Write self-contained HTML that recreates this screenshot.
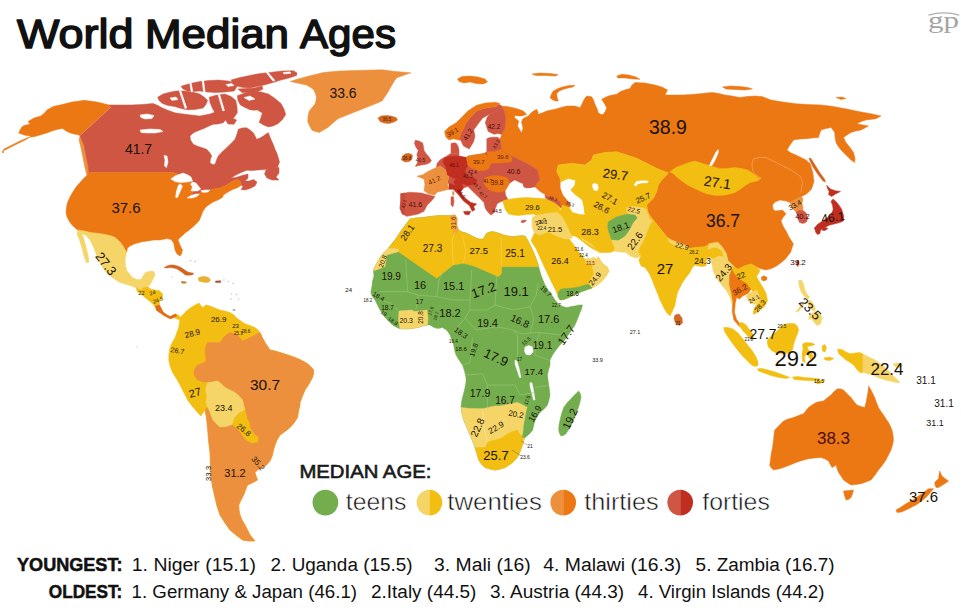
<!DOCTYPE html>
<html><head><meta charset="utf-8"><title>World Median Ages</title>
<style>
html,body{margin:0;padding:0;background:#fff;}
body{width:961px;height:612px;overflow:hidden;position:relative;font-family:"Liberation Sans",sans-serif;}
svg{position:absolute;left:0;top:0;}
svg text{font-family:"Liberation Sans",sans-serif;}
</style></head><body>
<svg width="961" height="612" viewBox="0 0 961 612">
<g shape-rendering="geometricPrecision">
<polygon points="111,107 109.3,105 97,102 84.3,100.3 72,102 62,104.5 53,106.6 47,110 44,113.5 40.6,116 34,118 28,121.5 30,124 24,125.5 21.9,126.9 20,130 18.7,133 24,135 31.2,136.2 26,139.5 18,143.5 10,147.5 3,151 4,149 12,145 20,141 28,137.5 35,136.5 40,135 46.8,133 52,131 57,129.5 62.4,128.4 66,131 70.2,133 74,134 78,134.7 80,135.5" fill="#ec7814" stroke="#ec7814" stroke-width="0.5" stroke-linejoin="round"/>
<polygon points="2,152 3,151 4,152 3,153" fill="#ec7814" stroke="#ec7814" stroke-width="0.5" stroke-linejoin="round"/>
<polygon points="80,135.5 83,134 85,142 87,152 89,162 91,172 90,176 87,176 85,168 83,158 81,148 79,140" fill="#ed903e" stroke="#ed903e" stroke-width="0.5" stroke-linejoin="round"/>
<polygon points="111,107 109.3,105 120,105 131,105 142,104.5 153,103.5 158,105.5 162.4,108 168.5,110.5 174.8,112.8 181,113.7 187.3,114.5 193.5,115.3 199.8,116 205,115 210,114 214,112.5 218,112 221,114 224,116 226.7,119 225.5,120 223.3,122.7 218,124 213.3,124.3 209,126 205,128 200,130 195,132 192,134 190,136 190.5,140 193.3,144.3 197,146 200,147 206.7,149.3 210,153 211.7,156 210.5,159 210,162.7 212.5,164.5 215,164.3 216.5,160 218.3,156 222,152 226.7,147.7 231,143.5 235,139.3 237,134 238.3,129.3 242,128 246.7,127.7 250,130 253.3,132.7 255,136 256.7,139.3 260,138 263.3,136 266,134 268.3,132.7 270,137 271.7,141 273.5,145 275,149.3 277,153.5 278.3,157.7 279.5,162 277.5,167.5 271,169 265,169.5 258,170 252,170.5 246.7,170.3 240,173 235,175.5 231,178 236,177.5 242,175.5 248,174 248,178 245,181 249,181 253.5,179.5 257,182 255,186 250,188.5 245,190 241,189.5 243,186.5 241.3,185.2 240,181 237,179.5 234,180.5 230.5,182.5 225,186 219.6,188 214,189 210,190 205,191 200.7,192 197,195.5 191,196.5 193,192 195,187 192.5,181.5 183,178 178,174 172.7,172.4 89,172.4 88,165 86,155 84,145 80,135.5" fill="#ce5642" stroke="#ce5642" stroke-width="0.5" stroke-linejoin="round"/>
<polygon points="266,170 272,168 279,167.5 279,173 276,177 279,180 272,180 267,178 264.5,174" fill="#ce5642" stroke="#ce5642" stroke-width="0.5" stroke-linejoin="round"/>
<polygon points="157.7,97.2 163,94 168.6,92.5 176,91 184.2,91 192,92 199.8,94.1 204,97 207.6,100.3 206,104.5 203,108.1 195,109.5 187.3,109.7 181,108.5 174.8,106.6 168,105.5 162.4,103.5 159,100.5" fill="#ce5642" stroke="#ce5642" stroke-width="0.5" stroke-linejoin="round"/>
<polygon points="181,86.3 190,83.5 199.8,81.6 209,80.5 218.5,80 228,81 237.3,83.2 236.5,87.5 234.2,91 225,92 215.4,92.5 207,92 199.8,91 193,91.5 187.3,91 183,89" fill="#ce5642" stroke="#ce5642" stroke-width="0.5" stroke-linejoin="round"/>
<polygon points="231,80 240,77.5 249.8,75.4 260,73.5 271.6,72.2 282,71 293.5,70.7 297,73 296.6,75.4 289,78 281,80 273,82.5 265.4,84.7 257,86.5 249.8,87.9 243,87.5 237.3,86.3 233,83.5" fill="#ce5642" stroke="#ce5642" stroke-width="0.5" stroke-linejoin="round"/>
<polygon points="238,89 246,88.5 254,88 262,86 263,89 258,91.5 250,92.5 242,92.5" fill="#ce5642" stroke="#ce5642" stroke-width="0.5" stroke-linejoin="round"/>
<polygon points="237.3,95.7 245,93 252.9,91 261,92 268.5,94.1 275,98.5 281,103.5 284,109 285.7,114.4 282.5,119.5 277.9,123.8 273,126 268.5,126.9 263.5,125 259.1,122.2 261,117.5 262.3,112.8 256,110.5 249.8,109.7 245,107.5 240.4,105 238,100.5" fill="#ce5642" stroke="#ce5642" stroke-width="0.5" stroke-linejoin="round"/>
<polygon points="209.2,97.2 217,95 224.8,94.1 231,96.5 235.7,100.3 237,106.5 237.3,112.8 234.5,117 231,120.6 224.5,119.5 218.5,117.5 215,113 212.3,108.1 210,102.5" fill="#ce5642" stroke="#ce5642" stroke-width="0.5" stroke-linejoin="round"/>
<polygon points="225,119 231,117.7 236.7,120 234,124.3 228,124" fill="#ce5642" stroke="#ce5642" stroke-width="0.5" stroke-linejoin="round"/>
<polygon points="179.3,91 181,91 186.8,108 185,108.5" fill="#ffffff" stroke="#ffffff" stroke-width="0.5" stroke-linejoin="round"/>
<polygon points="189.5,81.5 191,81.5 192.8,91.5 191.2,92" fill="#ffffff" stroke="#ffffff" stroke-width="0.5" stroke-linejoin="round"/>
<polygon points="202,80 203.6,80 205.2,92.5 203.6,93" fill="#ffffff" stroke="#ffffff" stroke-width="0.5" stroke-linejoin="round"/>
<polygon points="266,72.3 267.8,72 275,80.5 273,81.2" fill="#ffffff" stroke="#ffffff" stroke-width="0.5" stroke-linejoin="round"/>
<polygon points="217.8,94 219.5,93.8 224.5,110.5 222.8,111" fill="#ffffff" stroke="#ffffff" stroke-width="0.5" stroke-linejoin="round"/>
<polygon points="254,111 258,110.5 261,113.5 257,115" fill="#ffffff" stroke="#ffffff" stroke-width="0.5" stroke-linejoin="round"/>
<polygon points="244,97.5 250,96 255,99 249,100.5" fill="#ffffff" stroke="#ffffff" stroke-width="0.5" stroke-linejoin="round"/>
<polygon points="170,98 176,97 178,99.5 172,100.5" fill="#ffffff" stroke="#ffffff" stroke-width="0.5" stroke-linejoin="round"/>
<polygon points="226,84.5 232,83.5 234,85.5 228,86.5" fill="#ffffff" stroke="#ffffff" stroke-width="0.5" stroke-linejoin="round"/>
<polygon points="283,72.5 290,71.8 291,73.2 284,74" fill="#ffffff" stroke="#ffffff" stroke-width="0.5" stroke-linejoin="round"/>
<polygon points="140,115 147,114 154,115.5 152,118.5 145,119 141,117.5" fill="#ffffff" stroke="#ffffff" stroke-width="0.5" stroke-linejoin="round"/>
<polygon points="140,130 150,129 160,129.5 163,131.5 155,133 146,133 141,132.5" fill="#ffffff" stroke="#ffffff" stroke-width="0.5" stroke-linejoin="round"/>
<polygon points="164,155.4 167,156 168,162 166.5,167.6 164.5,166 165,160" fill="#ffffff" stroke="#ffffff" stroke-width="0.5" stroke-linejoin="round"/>
<polygon points="89,172.4 172.7,172.4 178,174 183,178 192.5,181.5 195,187 193,192 191,196.5 197,195.5 200.7,192 205,191 210,190 214,189 219.6,188 225,186 230.5,182.5 234,180.5 237,179.5 240,181 241.3,185.2 237,188 233.2,189.3 228,192 223.7,194.7 222.4,197.4 218,200 214.2,201.5 210,204 206,207 203,211 202,213.7 199.3,220.5 196,224 192.5,227.3 188,231 185,233 182,236 180,237.5 178,240 180,245 182.5,250 181.5,254 180,256 177,254 175,250 173.7,243 171,239.5 167,238.5 160,240 154,240 147.5,241 141,242 135,243.7 130,246 127.5,248 126.5,252.5 123,246 120,242 115,237.5 111,236 107.5,235 100,233.7 90,232.5 84,231 77.5,230 73,226 70,222.5 67,217 66,212.5 66.5,207 67.5,202.5 70,197 72.5,192.5 76,187 80,182.5 84,178 87.5,175" fill="#ec7814" stroke="#ec7814" stroke-width="0.5" stroke-linejoin="round"/>
<polygon points="170.8,179 175,176 183,173 188,175 191,177 192.5,181 187,182 180,182.5 175,181.5" fill="#ffffff" stroke="#ffffff" stroke-width="0.5" stroke-linejoin="round"/>
<polygon points="180.3,184 182.5,186 180,192 177.5,197.4 175.6,197.4 176.5,191 178.5,185" fill="#ffffff" stroke="#ffffff" stroke-width="0.5" stroke-linejoin="round"/>
<polygon points="192.5,182 196,183 200.7,189 198,191 193,191 191,190.7 192.5,187 190.5,184" fill="#ffffff" stroke="#ffffff" stroke-width="0.5" stroke-linejoin="round"/>
<polygon points="187,198 191,195.5 196,194 199.3,194 197,196.5 192,198" fill="#ffffff" stroke="#ffffff" stroke-width="0.5" stroke-linejoin="round"/>
<polygon points="200.7,190.7 205,190 210,190 208,192 203,192.5" fill="#ffffff" stroke="#ffffff" stroke-width="0.5" stroke-linejoin="round"/>
<polygon points="77.5,230 84,231 90,232.5 100,233.7 107.5,235 111,236 115,237.5 120,242 123,246 126.5,252.5 125,260 125.5,266 127,271 132.5,277.5 137,279.5 141,279.5 143,276 145.5,272.5 150,271 154,271.5 155,275 153,279 151,283 148,287 143.5,287.5 141,290 137.5,288.5 133,286.5 130,285.5 125,284 120,282.5 115,279.5 110,276 106,272 102.5,267.5 100,262.5 97.5,257.5 95,251 92.5,245 90,240 86,235.5 82,233.5 84,240 86,247 88,255 89,262 86.5,263 84,256 82,248 79.5,240 77,234" fill="#f5d568" stroke="#f5d568" stroke-width="0.5" stroke-linejoin="round"/>
<polygon points="136.4,288 141,290 143.5,287.5 148,287 150.5,289 155,290 159,290.5 162.8,294 162,298.5 159.5,301.5 159.5,305 161,308 163,312 167,315 170.3,316.6 175.3,314 179,315.3 180.8,319 178,319.5 174,317.5 170.3,318.8 164,315.5 159,312 156.5,310.3 154,305.3 150,301.5 145.2,297.7 141,294 137,291" fill="#f2be12" stroke="#f2be12" stroke-width="0.5" stroke-linejoin="round"/>
<polygon points="155.5,306 159.5,305 161,308 163,312 167,315 170.3,316.6 175.3,314 177,315.5 174,317.5 170.3,318.8 164,315.5 159,312 156.5,310.3" fill="#dc6a22" stroke="#dc6a22" stroke-width="0.5" stroke-linejoin="round"/>
<polygon points="164,267.5 167,266 170.3,265 173.5,265 176.6,265.7 180,267 182.9,268.8 185.5,270.5 187.9,272 191,272.8 193.6,273.2 193,274.5 191.7,275 188.5,275.2 185.4,275 183.5,273.5 181.6,272 179,270.3 176.6,268.8 173.5,268 170.3,267.5 167,268" fill="#d0651e" stroke="#d0651e" stroke-width="0.5" stroke-linejoin="round"/>
<polygon points="198,278 201,276.8 205,276.4 208.5,277.5 210.6,280 209,282 205.5,282.6 202,282 199,281" fill="#e9b030" stroke="#e9b030" stroke-width="0.5" stroke-linejoin="round"/>
<polygon points="181,281.6 184,281.4 186.7,282.2 185.5,283.3 182,283.3" fill="#b98a2a" stroke="#b98a2a" stroke-width="0.5" stroke-linejoin="round"/>
<polygon points="215.6,281 220.6,280.8 220.6,282.6 215.6,282.6" fill="#a0522d" stroke="#a0522d" stroke-width="0.5" stroke-linejoin="round"/>
<polygon points="290.2,81.5 296,79.5 301.9,77.9 309,76 316.4,74.2 322,72.8 328,72 340,71 352.8,70.6 365,70.2 382,69.8 388,70.4 393.6,71.3 402,72 411,72.8 403,75.5 396.5,77.9 394,81.5 392,85 390,88.5 387.8,92.4 385,96.5 382,101 375,104 367.4,107 360,110 352.8,112.8 345.5,115.7 338.3,118.6 333,123 328,127.4 323.5,130 319.3,132.5 315.5,131.5 312,130.3 309.5,126 307.7,121.6 308,116.5 309,111.4 312,107.5 315,104 316,100.5 316.4,96.8 315.2,93 313.5,89.5 310,87 306.2,85 298,83.2" fill="#ed903e" stroke="#ed903e" stroke-width="0.5" stroke-linejoin="round"/>
<polygon points="378,118 381,116 386,115.5 391,116 396,117.5 397.5,120 394,122 389,123.5 384,123 380,121.5" fill="#d2691e" stroke="#d2691e" stroke-width="0.5" stroke-linejoin="round"/>
<ellipse cx="190.5" cy="260.8" rx="1" ry="0.7" fill="#c5ccd2"/>
<ellipse cx="195" cy="261.5" rx="1" ry="0.7" fill="#c5ccd2"/>
<ellipse cx="224" cy="280" rx="0.9" ry="0.7" fill="#c5ccd2"/>
<ellipse cx="228.5" cy="281.5" rx="0.9" ry="0.7" fill="#c5ccd2"/>
<ellipse cx="233" cy="283.5" rx="0.9" ry="0.7" fill="#c5ccd2"/>
<ellipse cx="231.5" cy="294" rx="0.9" ry="0.7" fill="#c5ccd2"/>
<ellipse cx="236.5" cy="294.5" rx="0.9" ry="0.7" fill="#c5ccd2"/>
<ellipse cx="231" cy="299" rx="0.9" ry="0.7" fill="#c5ccd2"/>
<ellipse cx="238.5" cy="299" rx="0.9" ry="0.7" fill="#c5ccd2"/>
<ellipse cx="234" cy="310" rx="1.6" ry="0.8" fill="#8a8f94"/>
<ellipse cx="172" cy="277" rx="0.9" ry="0.6" fill="#c5ccd2"/>
<ellipse cx="137" cy="347" rx="0.8" ry="0.8" fill="#e8dca0"/>
<polygon points="195,305 199,303 202.5,307.5 206,305 210,306 215,308 220,310 225,311 230,312.5 234,315 237.5,318.7 241,321 245,323.7 250,325.5 255,327.5 258,330 260,332.5 262,337 265,342.5 268,347 270,350 275,351 280,352.5 288,355 295,357.5 301,360 307.5,363.7 311,367 313.7,370 313.5,374 312.5,377.5 309,384 305,390 302.5,396 300,402.5 300,405 298.5,411 297.5,417.5 294,423 290,427.5 285,431.5 280,435 277,440 275,445 273.5,450 272.5,455 270,461 267,464.5 262.5,467.5 258,469.5 255,472.5 256,476 257.5,480 252,483 247.5,485 245.5,490 243.7,495 241,500 238.7,505 239,510 240,515 242,520 245,525 247.5,530 250,535 255,541 248,541 242.5,540 236,535 230,530 225,523 220,515 217,506 215,497.5 212.5,487 211,477.5 210.5,465 210,452.5 208.5,440 207.5,427.5 206.5,418 205,410 201,416 197.5,412.5 192,406 187.5,400 183.5,392 180,385 176,378 172.5,372.5 170,366 168.7,360 169,353 170,347.5 172.5,342 175,337.5 177,332 178.7,327.5 179.5,322 180,317.5 184,313.5 187.5,310 191,307.5" fill="#f2be12" stroke="#f2be12" stroke-width="0.5" stroke-linejoin="round"/>
<polygon points="260,332.5 262,337 265,342.5 268,347 270,350 275,351 280,352.5 288,355 295,357.5 301,360 307.5,363.7 311,367 313.7,370 313.5,374 312.5,377.5 309,384 305,390 302.5,396 300,402.5 300,405 298.5,411 297.5,417.5 294,423 290,427.5 285,431.5 280,435 277,440 275,445 273.5,450 270,448 266,446 262,447 259,449 257.5,442.5 258,437 254,434 250,428 249,422 247.5,420 245,410 242.5,400 238,395 235,392.5 230,390 225,387.5 221,383.5 217.5,381 212,382 207.5,382.5 202,381.5 197.5,380 194.5,376 193.7,372.5 195,368 197.5,365 202,363.5 206,361 205.5,355 205,350 206,346 207.5,342.5 214,342.5 220,342.5 222.5,339 225,336 227.5,334 230,332.5 234,333.5 237.5,335 240,338 242.5,341 246,339.5 250,337.5 255,335" fill="#ed903e" stroke="#ed903e" stroke-width="0.5" stroke-linejoin="round"/>
<polygon points="207.5,382.5 212,382 217.5,381 221,383.5 225,387.5 230,390 235,392.5 238,395 242.5,400 245,410 243,411 238,414 235,417.5 233.5,421 232.5,425 226,427 220,427.5 216,424 212.5,420 210,414 207.5,407.5 206,402 207,396 205.5,390" fill="#f5d568" stroke="#f5d568" stroke-width="0.5" stroke-linejoin="round"/>
<polygon points="235,417.5 238,414 243,411 245,410 247.5,420 249,422 250,428 254,434 258,437 257.5,442.5 252,443.5 247,441 243,437 240,432 236,428 232.5,425 233.5,421" fill="#f2be12" stroke="#f2be12" stroke-width="0.5" stroke-linejoin="round"/>
<polygon points="220,427.5 226,427 232.5,425 236,428 240,432 243,437 247,441 252,443.5 257.5,442.5 259,449 256,452 255,458 255,464 258,469.5 255,472.5 256,476 257.5,480 252,483 247.5,485 245.5,490 243.7,495 241,500 238.7,505 239,510 240,515 242,520 245,525 247.5,530 250,535 255,541 248,541 242.5,540 236,535 230,530 225,523 220,515 217,506 215,497.5 212.5,487 211,477.5 210.5,465 210,452.5 208.5,440 207.5,427.5 206.5,418 205,410 207.5,407.5 210,414 212.5,420 216,424" fill="#ed903e" stroke="#ed903e" stroke-width="0.5" stroke-linejoin="round"/>
<polygon points="259,449 262,447 266,446 270,448 273.5,450 272.5,455 270,461 267,464.5 262.5,467.5 258,469.5 255,464 255,458 256,452" fill="#ed903e" stroke="#ed903e" stroke-width="0.5" stroke-linejoin="round"/>
<polygon points="410,219 416,218 423.3,217.5 430,216.5 436.7,215.8 443,215.5 450,215.8 455,215 457,219 456.7,225 458.3,230 462,232 466.7,233.3 472,236 476.7,238.3 480,239.3 483.3,239 485,236 486.7,233.3 490,232 493.3,231.7 498,233 503.3,235 508,236 513.3,236.7 520,235.8 525,236 527.5,240 530,245 532.5,250 535,256 537.5,262.5 539,268 541,275 543,280 545,285 547.5,289 550,292.5 552.5,296 555,300 557.5,303 560,305 564,307 567.5,307.5 571,306.5 575,306 579,305 582.5,305 581.5,309 580,312.5 577.5,319 575,325 571,331 567.5,336 564,341 560,345 556,350 552.5,355 550,360 550,365 548.5,370 547.5,375 548,380 548.7,385 549.5,390 550,395 549,400 547.5,405 544,409 540,412.5 537.5,416 535,420 533.5,425 532.5,430 529,434 525,437.5 523.5,441 522.5,445 520.5,450 518.7,455 516,459 512.5,462.5 509,465 505,467.5 500,469 495,470 490,469 485,467.5 481.5,464 478.7,460 477,454 475,447.5 472.5,441 470,435 467,428 463.7,420 462,414 461,407.5 461.5,402 462.5,397.5 464,392 465,387.5 466,382 466,377.5 464.5,371 462.5,365 459,360 456,355 454.5,350 453.7,345 452,340 450,335 447,330.5 442.5,327.5 438,328.5 434,327.5 430,325 427.5,325 423,326 418,327.5 412,328.5 406,329 400,328.7 396,327 392.5,325 388.5,321 385,317.5 382.5,314 380,310 377.5,305 375,300 372,296 370.8,292 372,286 372.5,281 374,276 373.3,270 376.7,263.3 381.7,255 388.3,248.3 395,240 401.7,230" fill="#73ad4e" stroke="#73ad4e" stroke-width="0.5" stroke-linejoin="round"/>
<polygon points="410,219 416,218 423.3,217.5 430,216.5 436.7,215.8 443,215.5 450,215.8 455,215 457,219 456.7,225 458.3,230 462,232 466.7,233.3 472,236 476.7,238.3 480,239.3 483.3,239 485,236 486.7,233.3 490,232 493.3,231.7 498,233 503.3,235 508,236 513.3,236.7 520,235.8 525,236 527.5,240 530,245 532.5,250 535,256 537.5,262.5 538.5,266.7 501.7,266.7 501.7,273.3 498.3,276.7 483.3,270 473.3,265.8 463.3,263.3 453.3,265 436.7,278.3 398.3,251.7 398.3,249 388.3,248.3 395,240 401.7,230" fill="#f2be12" stroke="#f2be12" stroke-width="0.5" stroke-linejoin="round"/>
<polygon points="388.3,248.3 398.3,249 398.3,251.7 386.7,255 385,266.7 374,270.8 373.3,270 376.7,263.3 381.7,255" fill="#f5d568" stroke="#f5d568" stroke-width="0.5" stroke-linejoin="round"/>
<polygon points="450.5,215.8 455,215 457,219 456.7,225 458.3,230 456.5,233 454,235.5 452.8,229 451.2,222" fill="#f0a23c" stroke="#f0a23c" stroke-width="0.5" stroke-linejoin="round"/>
<polygon points="399,311 412,310 414,311.5 420,311 427,310 428,318 427.5,325 423,326 418,327.5 412,328.5 406,329 400,328.7 398.5,320" fill="#f5d568" stroke="#f5d568" stroke-width="0.5" stroke-linejoin="round"/>
<polygon points="461,407.5 470,408.5 482.5,408.7 490,407 495,406 500,406 505,405 511,403.5 517.5,402.5 522,404.5 527.5,407.5 526,414 525,420 524,425 523.7,430 523,434 522.5,437.5 525,437.5 523.5,441 522.5,445 520.5,450 518.7,455 516,459 512.5,462.5 509,465 505,467.5 500,469 495,470 490,469 485,467.5 481.5,464 478.7,460 477,454 475,447.5 472.5,441 470,435 467,428 463.7,420 462,414" fill="#f5d568" stroke="#f5d568" stroke-width="0.5" stroke-linejoin="round"/>
<polygon points="475,447.5 477,454 478.7,460 481.5,464 485,467.5 490,469 495,470 500,469 505,467.5 509,465 512.5,462.5 516,459 518.7,455 520.5,450 522.5,445 523.5,441 522,436 519,433 517.5,430 514,431 510,432.5 506,435 502.5,437.5 499,439 495,440 491,441 487.5,442.5 486.5,445 486,447.5 480,447.5" fill="#f2be12" stroke="#f2be12" stroke-width="0.5" stroke-linejoin="round"/>
<polygon points="527.5,407.5 532,410 537.5,416 535,420 533.5,425 532.5,430 529,434 525,437.5 522.5,437.5 523,434 523.7,430 524,425 525,420 526,414" fill="#73ad4e" stroke="#73ad4e" stroke-width="0.5" stroke-linejoin="round"/>
<polygon points="525,347 529,345.5 532.5,347 533,352 530,355 526,354.5 524.5,351" fill="#ffffff" stroke="#ffffff" stroke-width="0.5" stroke-linejoin="round"/>
<polygon points="515,360 517,361 519,368 521,377.5 519.5,377.5 517,370 515,364" fill="#ffffff" stroke="#ffffff" stroke-width="0.5" stroke-linejoin="round"/>
<polygon points="530,382.5 532,383 533.5,390 535,400 533.5,400 531.5,392 530,386" fill="#ffffff" stroke="#ffffff" stroke-width="0.5" stroke-linejoin="round"/>
<polygon points="578.7,391 580.5,394 581,397.5 579.5,404 577.5,410 575,416.5 572.5,422.5 569.5,428 566,433.7 563.5,435.5 561,436 559.3,433 558.7,430 559,425 560,420 561.5,414 563.7,407.5 567,403 571,398.7 575,394.5" fill="#73ad4e" stroke="#73ad4e" stroke-width="0.5" stroke-linejoin="round"/>
<polygon points="498.3,104.5 501.7,106 507,106.5 513.3,107.7 518,109 523.3,111 526.7,114.3 522,116 518.3,116 515,115.5 514.5,117.7 518.8,121 517.5,126 520.5,131 521.7,132.7 523,128 521.5,122 523,118.5 528.3,116 531,113 533.3,111 536.7,109.3 538,112 538.3,114.3 542,113 546.7,111 551,110 555,109.3 561,107.5 566.7,106 571,106 575,106 580,107.7 582,104 583.3,101 585,98 586.7,96 591.7,96.8 593.5,100 595,104.3 597,108.5 598.3,112.7 601,114.5 603.3,114.3 605.5,111 606.7,107.7 604,103 601.7,99.3 605,97.5 608.3,96 612.5,95 616.7,94.3 619,92.5 621.7,91 626,89.5 630,88.5 632,85 635,82.5 645,83 655,85 662,87 667.5,90 665,95 673,95 682.5,95 691,94.5 700,93.7 706,93 712.5,92.5 719,93.5 725,95 732,96 740,97.5 747,96.5 755,96 762,96.5 771,100 783,102 796,103.7 808,104.5 821,105 830,106 838.5,107.5 847,109 856,111 864,112.5 871,113.7 881,116 876,118.7 866,120 861,121.5 857,123.7 863,125 868.5,126 864,128.5 861,130 856,131 851,132.5 847,135 843.5,137.5 846,142.5 850,147.5 853.5,152.5 855,158 854.7,162.5 851,160 848.5,157.5 844.5,153.5 841,150 838,146 836,142.5 835,137 834.7,132.5 833,130 831,127.5 826,128.5 821,130 819.5,134 818.5,137.5 812,138 806,138.7 800,139 793.5,140 790,145 787,150 791,153 796,155 801,157.5 806,160 810.3,163.8 812.8,172.6 814,181.4 811.6,189 806.5,194 801.5,196.5 798,198 794,200.5 790,202.5 786,201 780,200 775,202 772.5,205 773,209 775,211 779,210.5 782.5,210 786,213.7 783,217.5 781,221 783,226 786,231 789,237 792.5,242.5 793.4,243.7 790.5,252.5 784.7,259.8 777.4,265.6 771.6,268.5 765.8,270 760,268.5 754,265.6 751.2,264 745.4,265.6 738,269.2 733.7,266.3 727.9,260.5 726.4,254 722,246.7 717.7,242.3 710.4,243.7 704.6,246.7 695.8,247.4 690,248.3 680,244 673.3,241.7 666.7,236.7 660,228.3 653.3,220 648.3,213.3 646.7,205 653.3,198.3 656.7,191.7 658.3,185 661.7,180 666.7,175 668.3,172.5 665,171.7 656.7,168.3 646.7,163.3 636.7,158.3 626.7,155 616.7,151.7 605,152.5 593.3,155 591.7,160 585,165 571.7,163.3 558.3,165 556.7,171.7 560,178.3 560.8,182.5 560.8,188.3 563.3,195 566,199 568.3,201.7 565,203 560,201.5 555,200 550,197.5 545,195 540,192 535,187.5 537,183 540,180 538.5,175 537.5,170 533,167 530,165 520,160 510,155 503,152 501.7,149.3 500,139.3 501.7,134.3 505,127.7 505.7,118.3 504.3,111 501,105.5" fill="#ec7814" stroke="#ec7814" stroke-width="0.5" stroke-linejoin="round"/>
<polygon points="761.4,277 764,275.8 767.2,277.5 766.5,280 763.5,281 761.5,279.5" fill="#ec7814" stroke="#ec7814" stroke-width="0.5" stroke-linejoin="round"/>
<polygon points="809,158 811,158.5 815,165 820,173 824.5,179 825.5,182 823,181 818,174.5 813,167 810,161" fill="#d4621a" stroke="#d4621a" stroke-width="0.5" stroke-linejoin="round"/>
<polygon points="550,97.7 551.5,94 553.3,91 558,88.5 563.3,86.8 569,85.5 575,85.2 573,87 568,88 563.3,89.3 559.5,91 556.7,93.5 557,97 558.3,101 555.5,101 553.3,100.2" fill="#ec7814" stroke="#ec7814" stroke-width="0.5" stroke-linejoin="round"/>
<polygon points="616.7,76 622,74.3 629,75 636,77 640,79.3 633,79 625,78 618,78" fill="#ec7814" stroke="#ec7814" stroke-width="0.5" stroke-linejoin="round"/>
<polygon points="722.5,87 730,86 740,86.5 748,87.5 752.5,89 745,90 735,89.5 726,89" fill="#ec7814" stroke="#ec7814" stroke-width="0.5" stroke-linejoin="round"/>
<polygon points="457.5,79 462,76.5 470,76 478,77 485,79 487.5,82 483,84 476,83.5 470,82 464,83 459,81.5" fill="#ec7814" stroke="#ec7814" stroke-width="0.5" stroke-linejoin="round"/>
<polygon points="532,74 540,73 550,73.5 558,74.5 556,76 546,75.5 536,75.5" fill="#ec7814" stroke="#ec7814" stroke-width="0.5" stroke-linejoin="round"/>
<polygon points="836,97.5 842,97 846,98.5 841,99.5" fill="#ec7814" stroke="#ec7814" stroke-width="0.5" stroke-linejoin="round"/>
<polygon points="670,171.7 676,167.5 682.5,165 689,162.5 695,161 701,163 707.5,165 714,167 720,168.7 727.5,168.5 735,167.5 741,168.5 747.5,170 751,172 755,175 758,177.5 761,178.5 757,181 750,182.5 746,185 742.5,187.5 739,190 735,192.5 730,194 725,195 718.5,195.5 712.5,195 706,193.5 700,191 693.5,188 687.5,185 682,181 677.5,177.5 673,173.5" fill="#f2be12" stroke="#f2be12" stroke-width="0.5" stroke-linejoin="round"/>
<polygon points="709.5,165.5 711,162 713.5,157 716,152 718,149.5 718.5,152 716.5,157 714,162 712,165.5" fill="#ffffff" stroke="#ffffff" stroke-width="0.5" stroke-linejoin="round"/>
<polyline points="761,178 756,175 752.5,170 752,164 753.5,158.7 760,157.5 766,157.5 772,160.5 778.5,163.7 785,167 791,170 797,174 801,177 802.5,182.5 801.5,188 801,192.5" fill="none" stroke="#f4a05c" stroke-width="0.8" stroke-linejoin="round"/>
<polygon points="558.3,165 571.7,163.3 585,165 591.7,160 593.3,155 605,152.5 616.7,151.7 626.7,155 636.7,158.3 646.7,163.3 656.7,168.3 665,171.7 668.3,172.5 666.7,175 661.7,180 658.3,185 656.7,191.7 653.3,198.3 646.7,205 648.3,213.3 645,215 640,214.5 637.5,218.3 635,215 626.7,214.2 616.7,216.7 608.3,221.7 605,212.5 596,214 587.5,215 584.2,214.2 583.3,206.7 581.7,200 575,195 570,190 574,185.8 575,180.8 568.3,179 560.8,182.5 560,178.3 556.7,171.7" fill="#f2be12" stroke="#f2be12" stroke-width="0.5" stroke-linejoin="round"/>
<polygon points="626.7,207.5 632,206.5 638,207 645,208.5 647.5,212 645,215 640,214.5 637.5,218.3 635,215 630,214.5 626.7,212" fill="#f5d568" stroke="#f5d568" stroke-width="0.5" stroke-linejoin="round"/>
<polygon points="592.5,184.5 594.5,183.3 597.5,184.5 598.3,188 597,190.8 594,190 592.8,187.5" fill="#ffffff" stroke="#ffffff" stroke-width="0.5" stroke-linejoin="round"/>
<polygon points="634,185 636.5,181.5 642,180.8 648.3,181 647.5,182.7 641.5,183 637.5,184 636,186" fill="#ffffff" stroke="#ffffff" stroke-width="0.5" stroke-linejoin="round"/>
<polygon points="560.8,182.5 568.3,179 575,180.8 574,185.8 570,190 575,195 581.7,200 583.3,206.7 584.2,214.2 578.3,215.8 571.7,213.3 569.2,206.7 568.3,200 563.3,195 560.8,188.3" fill="#ffffff" stroke="#ffffff" stroke-width="0.5" stroke-linejoin="round"/>
<polygon points="436.5,167.5 437,163.5 440,160 443,158 444.5,157.6 451,153.3 459,153.3 459,156.2 466.4,157.6 467.8,156.2 476.6,154.7 484,153.5 486.8,151.8 492,152 497,151 501.7,149.3 503,152 510,155 520,160 530,165 533,167 537.5,170 538.5,175 540,180 537,183 535,187.5 530.5,188 526,187 523,183.5 518,182 514.5,180.6 510,183.5 508,187 505.7,190.8 506,195 508.6,199.5 505.5,200 502.8,201 499,202.5 497,203.9 495.5,208.3 494,212.6 491.5,215 489.7,214 487,211 485.3,208.3 483.9,202.4 479.5,198 473.7,192.2 467.8,186.4 463.5,187.9 462,183.5 456.2,185 449,183.5 447.4,183.5 449,176.2 446,170.4 440.2,166" fill="#ce5642" stroke="#ce5642" stroke-width="0.5" stroke-linejoin="round"/>
<polygon points="495.5,106.7 497,111 489.7,114 482.4,118.3 478,124 473.7,130 475,135.8 473.7,141.6 469.3,149 463.5,146 460.6,140 459,140 460.6,134.3 463.5,128.5 466.4,122.7 470.8,116.9 476.6,111 485.3,108" fill="#ce5642" stroke="#ce5642" stroke-width="0.5" stroke-linejoin="round"/>
<polygon points="497,111 495.5,106.7 498.3,104.5 501,105.5 504.3,111 505.7,118.3 505,127.7 501.7,134.3 498,133.5 494,134.3 488.2,131.4 485.3,122.7 487,117.5 489.7,114" fill="#ce5642" stroke="#ce5642" stroke-width="0.5" stroke-linejoin="round"/>
<polygon points="486.8,139 488,138 492,137.2 498,137.2 500,139.3 501.7,149.3 497,151 492,152 486.8,151.8 486.8,145" fill="#ce5642" stroke="#ce5642" stroke-width="0.5" stroke-linejoin="round"/>
<polygon points="451,143.5 453,143 456,143 458,146 459,150 459,153.3 455,153.3 451,153.3 451,148" fill="#ce5642" stroke="#ce5642" stroke-width="0.5" stroke-linejoin="round"/>
<polygon points="400.8,193.7 409.6,192.2 421.2,193 430,195.2 435,196.6 431.4,201 427,205.4 424,211.2 418.3,214 411,215.6 406.7,216.3 402.3,214 400,208.3 400.8,201" fill="#ce5642" stroke="#ce5642" stroke-width="0.5" stroke-linejoin="round"/>
<polygon points="400.8,193.7 404.5,193.2 405,200 404,208 405,214.5 402.3,214 400,208.3 400.8,201" fill="#c94a38" stroke="#c94a38" stroke-width="0.5" stroke-linejoin="round"/>
<polygon points="446,137.2 444.5,131.4 449,127 456.2,122.7 462,116.9 467.8,111 476.6,105.2 485.3,103 495.5,102.3 500,103.7 498.3,104.5 495.5,106.7 485.3,108 476.6,111 470.8,116.9 466.4,122.7 463.5,128.5 460.6,134.3 459,140 453.3,138.7 449,140" fill="#ec7814" stroke="#ec7814" stroke-width="0.5" stroke-linejoin="round"/>
<polygon points="422.7,174.8 416.9,176.2 424,179 424.9,185 424,190.8 428.5,193.7 434.3,195.2 437.2,192.2 443,190.8 449,189.3 447.4,183.5 449,176.2 446,170.4 440.2,166 436.5,167.5 432.9,169 427,172" fill="#ed903e" stroke="#ed903e" stroke-width="0.5" stroke-linejoin="round"/>
<polygon points="444.5,157.6 451.8,156.2 459,156.2 466.4,157.6 467.8,165 465,170.8 467.8,176.6 462,179.5 453.3,178 447.4,175 446,167.8 443,162" fill="#c02e20" stroke="#c02e20" stroke-width="0.5" stroke-linejoin="round"/>
<polygon points="456,179 462,179.5 467.8,176.6 473,177.5 477,180 475,184 468,185.5 462,183.5 456.2,185 453.5,182" fill="#c02e20" stroke="#c02e20" stroke-width="0.5" stroke-linejoin="round"/>
<polygon points="449,183.5 456.2,185 462,183.5 463.5,187.9 460.6,192.2 465,198 470.8,202.4 476.6,203.9 473.7,206.8 475,209.7 472.2,211.2 469.3,205.4 463.5,201 457.6,193.7 453.3,189.3 449,189.3" fill="#c02e20" stroke="#c02e20" stroke-width="0.5" stroke-linejoin="round"/>
<polygon points="463.5,211.5 467,211.2 470.8,211.5 469,214.8 465,214.5" fill="#c02e20" stroke="#c02e20" stroke-width="0.5" stroke-linejoin="round"/>
<polygon points="451,197 453.5,196.6 454,202 453,206.8 451,205" fill="#ce5642" stroke="#ce5642" stroke-width="0.5" stroke-linejoin="round"/>
<polygon points="452.5,191.5 454,191.5 454,195 452.5,195" fill="#ed903e" stroke="#ed903e" stroke-width="0.5" stroke-linejoin="round"/>
<polygon points="467.8,156.2 476.6,154.7 484,153.5 488.2,156.2 491,163.5 488.2,169.3 484,170.5 479.5,170.8 475,169.5 470.8,167.8 467.8,165 466.4,157.6" fill="#ec7814" stroke="#ec7814" stroke-width="0.5" stroke-linejoin="round"/>
<polygon points="488.2,156.2 486.8,151.8 492,152 497,151 501.7,149.3 503,152 510,155 512,158.5 511.5,161.7 505,162.5 498,163 494,163 491,163.5" fill="#ec7814" stroke="#ec7814" stroke-width="0.5" stroke-linejoin="round"/>
<polygon points="485.3,177.7 491,176 497,175.5 502,176.5 507.2,177.7 508.5,180.5 510,183.5 508,187 505.7,190.8 501,191.8 497,192.2 492.5,191 488.2,189.3 486,186.5 483.9,183.5" fill="#ec7814" stroke="#ec7814" stroke-width="0.5" stroke-linejoin="round"/>
<polygon points="415.4,140.2 419,141 422.7,143 423.5,147 424,150.4 426,153.5 428.5,156.2 430,158.5 431.4,160.6 430,162.5 428.5,163.5 425,164.5 421.2,165 418,165.8 415.4,166.4 417,163.5 418.3,160.6 417.5,157.5 416.9,154.7 417.5,152.5 418.3,150.4 416.5,148 415.4,146 414.5,143" fill="#ce5642" stroke="#ce5642" stroke-width="0.5" stroke-linejoin="round"/>
<polygon points="402,156.5 405,154 409,153.3 412.5,155 412,159 409.5,161.5 405,162 401.6,160" fill="#d2691e" stroke="#d2691e" stroke-width="0.5" stroke-linejoin="round"/>
<polygon points="510,183.5 514.5,180.6 518,182 521,184 524,188 528,189 532,188 535,187.5 540,192 545,195 545.5,198 542,198.5 535,198 527,197.5 518.8,198 514,198.5 508.6,199.5 506,195 505.7,190.8 508,187" fill="#ffffff" stroke="#ffffff" stroke-width="0.5" stroke-linejoin="round"/>
<polygon points="523,184 526.5,183.5 530.5,185 529.5,187.5 526,188 523.5,186.5" fill="#ce5642" stroke="#ce5642" stroke-width="0.5" stroke-linejoin="round"/>
<polygon points="502.8,201 505.5,200 508.6,199.5 514,198.5 518.8,198 527,197.5 535,198 542,198.5 548,199 553,200.5 557,203.5 559.5,207 560,211 556,212.5 550,214 543,215 537,216 534,214 527,214.5 518.8,215.6 513,215 508.6,214 505.5,210 504.3,206.8 503.5,203.5" fill="#f2be12" stroke="#f2be12" stroke-width="0.5" stroke-linejoin="round"/>
<polygon points="545,195 550,197.5 555,200 560,201.5 565,203 568.3,201.7 570.5,205.5 569,207.5 565,206 561.5,208.5 558,205 554,202 549,200 545.5,198" fill="#ce5642" stroke="#ce5642" stroke-width="0.5" stroke-linejoin="round"/>
<polygon points="560,201.5 565,203 568.3,201.7 570.5,205.5 569,207.5 565,206 562,207 560.5,204" fill="#ec7814" stroke="#ec7814" stroke-width="0.5" stroke-linejoin="round"/>
<polygon points="521,221 524,220 526.5,220.5 524,222.5 521.5,222.5" fill="#ce5642" stroke="#ce5642" stroke-width="0.5" stroke-linejoin="round"/>
<polygon points="537,216 543,215 550,214 556,212.5 560,211 562.5,205 565,206 569,207.5 572.5,212.5 580,214.5 587.5,215 596,214 605,212.5 608.3,221.7 607.5,226.7 609.2,233.3 611.7,240 613.5,245 615,247.5 614,251 610,252.5 604,252.5 600,252.5 596,249 592,245 587,241.5 582,238.5 577,237 573,237 570.5,238.5 573,243 577,248 581,253 585,257.5 589,260.5 593,262 596,259 598.5,256.5 600,260 603,264 607,267 609,271 606,276 602,281 597,285 592,288 587.5,289.5 582,291.5 576,294 570,297 564,299.5 560,300 558,296.5 556,291 553,285 549.5,278 546,270.5 542.5,263 539,255.5 536,248.5 533,244 531,240.5 533,236 535.5,231 534.5,225 536,220" fill="#f2be12" stroke="#f2be12" stroke-width="0.5" stroke-linejoin="round"/>
<polygon points="569,236 574,235.5 580,238 586,242 592,246 597,250 600,253 600,258 596,261 590,262 585,259 580,254.5 575,248 571,242" fill="#f2be12" stroke="#f2be12" stroke-width="0.5" stroke-linejoin="round"/>
<polygon points="569,237.5 572,236 576,237 582,241.5 589,247 594,250 598,252 601,254.5 600.5,258 597,259 593.5,258.5 590,260.5 586,259.5 582.5,256 578,250.5 574,244.5 570.5,240" fill="#ffffff" stroke="#ffffff" stroke-width="0.5" stroke-linejoin="round"/>
<polygon points="532,217.5 536,215.5 541,214.5 549,213 556.7,212.5 560,214.5 562.5,217.5 565.5,223 568.4,229 572.4,238 568.5,239 564.5,239 559.5,237 554.7,235 550.5,233 546.9,232 543,234 539,235 536,233.5 534,232 532.5,228.5 532,225" fill="#f5d568" stroke="#f5d568" stroke-width="0.5" stroke-linejoin="round"/>
<polygon points="593,262 596,259 598.5,256.5 600,260 603,264 607,267 609,271 606,276 602,281 597,285 592,288 589,284.5 591,279 594,274 592.5,268" fill="#f5d568" stroke="#f5d568" stroke-width="0.5" stroke-linejoin="round"/>
<polygon points="560,300 564,299.5 570,297 576,294 582,291.5 587.5,289.5 592,288 589,284.5 585,285 579,287 573,288 566,288.5 561,289 558.5,292 558,296.5" fill="#73ad4e" stroke="#73ad4e" stroke-width="0.5" stroke-linejoin="round"/>
<polygon points="587,258 590,258.8 593.5,257.2 596,258.5 594,262.5 590,264.5 586,263.5 585,260.5" fill="#f5d568" stroke="#f5d568" stroke-width="0.5" stroke-linejoin="round"/>
<polygon points="608.3,221.7 616.7,216.7 626.7,214.2 635,215 637.5,218.3 633.3,223.3 630,230 625,236.7 618.3,240.8 611.7,240 609.2,233.3 607.5,226.7" fill="#73ad4e" stroke="#73ad4e" stroke-width="0.5" stroke-linejoin="round"/>
<polygon points="637.5,218.3 640,214.5 645,215 648.3,213.3 650,219 653.3,220 650,225 646.7,233.3 643.3,241.7 640,247 638.7,252 641,256 637,258 631,256.5 626,252.5 620,252 614,251 615,247.5 613.5,245 611.7,240 618.3,240.8 625,236.7 630,230 633.3,223.3" fill="#f5d568" stroke="#f5d568" stroke-width="0.5" stroke-linejoin="round"/>
<polygon points="648.3,213.3 653.3,220 660,228.3 666.7,236.7 673.3,241.7 680,244 690,248.3 695.8,247.4 704.6,246.7 710.4,243.7 717.7,242.3 722,246.7 726.4,254 724,257 719,256 713.3,259 709,256.9 706,258.5 706,265.6 700,266 695,265 692,268 690,272.5 686,277.5 682.5,282.5 680,287.5 677.5,292.5 676,299 675,305 672.5,311 670,316 667,313 665,310 662.5,305 660,300 657.5,293.5 655,287.5 652.5,281 650,275 647.5,271 645,267.5 641,266 638.7,260 641,256 638.7,252 640,247 643.3,241.7 646.7,233.3 650,225 653.3,220 650,219" fill="#f2be12" stroke="#f2be12" stroke-width="0.5" stroke-linejoin="round"/>
<polygon points="695,256.5 700,255 706,257.5 706,265.6 702,266.5 697,265.5 694,261" fill="#f2be12" stroke="#f2be12" stroke-width="0.5" stroke-linejoin="round"/>
<polygon points="668,238.5 674,241 681,243.5 688,246.5 689,249 682,248 675,245.5 669,242" fill="#f5d568" stroke="#f5d568" stroke-width="0.5" stroke-linejoin="round"/>
<polygon points="675,315 679,314 682,318 682.5,323 679,325.5 675.5,323 674,318.5" fill="#d2691e" stroke="#d2691e" stroke-width="0.5" stroke-linejoin="round"/>
<polygon points="790,202.5 794,200.5 798,198 801.5,196.5 803,199.5 802,203.5 803,207.5 802.8,210.3 799,210.5 796,212 793.5,209.5 791,206" fill="#ed903e" stroke="#ed903e" stroke-width="0.5" stroke-linejoin="round"/>
<polygon points="796,212 799,210.5 802.8,210.3 806,213 807.8,218 806.5,222 803,223.5 799.5,222.5 798,219 797.5,215.5" fill="#ce5642" stroke="#ce5642" stroke-width="0.5" stroke-linejoin="round"/>
<polygon points="826.7,185.2 830.4,189 835.5,190.8 840.5,191.4 838,192.8 835.5,194 831.7,196.5 828.5,194.6 829.2,191.4 827.5,188.5" fill="#c02e20" stroke="#c02e20" stroke-width="0.5" stroke-linejoin="round"/>
<polygon points="833,199 836.5,202 839,205.3 841.5,209 842.8,212.8 843.8,217 843.4,221 839,222.8 834,224 829,225.3 824,228 820,230.3 816.5,230.5 814,228.6 817.4,224.6 821,222 824.8,219.4 827.8,217 830.8,214.3 832.3,211.8 833.2,209.5 832.5,205 831,201.5" fill="#c02e20" stroke="#c02e20" stroke-width="0.5" stroke-linejoin="round"/>
<polygon points="815.3,228.5 818,228 820.4,230 820,233.5 817.5,234.5 815.5,232" fill="#c02e20" stroke="#c02e20" stroke-width="0.5" stroke-linejoin="round"/>
<polygon points="822,228.5 825.5,227.5 828,228.5 825,230.5 822.5,230.5" fill="#c02e20" stroke="#c02e20" stroke-width="0.5" stroke-linejoin="round"/>
<polygon points="797,260.5 798.8,260.5 799,264 797.8,266.5 796.6,264.5" fill="#c02e20" stroke="#c02e20" stroke-width="0.5" stroke-linejoin="round"/>
<polygon points="709,243.7 717.7,242.3 722,246.7 726.4,254 727.9,260.5 733.7,266.3 732.2,268.5 728.6,275.8 729.3,283 732.2,290.4 733.7,299 735.2,307.8 733,308 730.8,299 728.5,294.5 726.4,290.4 721.3,284.5 717,278.7 713.3,271.4 711.9,264 709,256.9 713.3,259 719,256 724,257 722,251 717,247.5 712.5,247.5 708,249.6" fill="#f5d568" stroke="#f5d568" stroke-width="0.5" stroke-linejoin="round"/>
<polygon points="729.3,275.8 732.2,268.5 735.2,274.3 739.5,278.7 746.8,283 751.2,289 748.3,293.3 742.4,296.2 739.5,299 736.6,297.6 735.2,303.5 734.4,312.2 736.6,319.5 740.3,324 742,327 739,326 735.5,322 733.7,319.5 732.2,310.8 733,302 731.5,293.3 729.3,284.5" fill="#ec7814" stroke="#ec7814" stroke-width="0.5" stroke-linejoin="round"/>
<polygon points="733.7,266.3 738,269.2 745.4,265.6 751.2,264 751.2,270 748.3,275.8 754,283 757,290.4 752.6,291.8 751.2,289 746.8,283 739.5,278.7 735.2,274.3 732.2,268.5" fill="#f2be12" stroke="#f2be12" stroke-width="0.5" stroke-linejoin="round"/>
<polygon points="747.5,267 751.2,264 754,265.6 758.5,268.5 760,271 756.5,276.5 759.5,282 763,287.5 766,293.3 767.5,300.6 764.5,306.4 759,311 754,314.5 753,312 755,307 758.5,303 759.5,298 757,290.4 754,283 749.5,277 748.3,275.8 751.2,270" fill="#f2be12" stroke="#f2be12" stroke-width="0.5" stroke-linejoin="round"/>
<polygon points="748.3,293.3 752.6,291.8 757,290.4 760,298 759,303.5 755,304.5 751,303.5 748,300 746.5,296.5" fill="#f5d568" stroke="#f5d568" stroke-width="0.5" stroke-linejoin="round"/>
<polygon points="739,323 742.5,322.5 746,325 749.5,329.5 752,333 753.5,335.4 753,338 751.4,338.8 748.5,337 746,334 743,331 741,328 739.5,325.5" fill="#f2be12" stroke="#f2be12" stroke-width="0.5" stroke-linejoin="round"/>
<polygon points="723.7,327.5 728,327.5 733,329 738,333 743,339 748,345.5 752.5,351 756,357 758,362 758,365.5 755.5,366.5 752,365.5 747.5,361 742.5,356 737.5,350 732.5,343.5 728,337 724.5,331.5" fill="#f2be12" stroke="#f2be12" stroke-width="0.5" stroke-linejoin="round"/>
<polygon points="757.5,368.7 762,368.5 768,370 775,372 782,374.5 790,377.5 786,378.5 779,377.5 771,375.5 764,373 758.5,371" fill="#f2be12" stroke="#f2be12" stroke-width="0.5" stroke-linejoin="round"/>
<polygon points="792.5,377 798,376.5 805,377.5 812,378 820,379 816,381 808,380.5 800,380 794,379.5" fill="#f2be12" stroke="#f2be12" stroke-width="0.5" stroke-linejoin="round"/>
<polygon points="815,382.5 820,381 825,379.5 823,382.5 818,384" fill="#f2be12" stroke="#f2be12" stroke-width="0.5" stroke-linejoin="round"/>
<polygon points="767.5,340 771,336 775,333 779,329 782.5,325 788,323.5 795,323.7 797.5,326.5 798.7,330 797,335 795,340 793.5,345 792.5,350 789,352.5 785,353.7 780,353.5 775,352.5 771.5,350.5 768.7,347.5 767.5,344" fill="#f2be12" stroke="#f2be12" stroke-width="0.5" stroke-linejoin="round"/>
<polygon points="802.5,344 806,342.5 812,343 815,344.5 811,346 807,346.5 808.5,350 812,353 813.5,358 811.5,362 809,357 806.5,353 804.5,357 805,362.5 802.5,361 802,354 803,349" fill="#f2be12" stroke="#f2be12" stroke-width="0.5" stroke-linejoin="round"/>
<polygon points="822,346 825,344.5 826.5,348 825,352 822.5,351" fill="#f2be12" stroke="#f2be12" stroke-width="0.5" stroke-linejoin="round"/>
<polygon points="824,358 829,357 834,358.5 830,360.5 825,360" fill="#f2be12" stroke="#f2be12" stroke-width="0.5" stroke-linejoin="round"/>
<polygon points="798.5,280.5 801.5,280 803.5,284 804.5,289 806.5,293.5 809.5,297 808,299 804.5,296.5 801.5,292.5 799.5,287" fill="#f5d568" stroke="#f5d568" stroke-width="0.5" stroke-linejoin="round"/>
<polygon points="807,300 810.5,300.5 813.5,304 815.5,309 813.5,311.5 810.5,308 808,304" fill="#f5d568" stroke="#f5d568" stroke-width="0.5" stroke-linejoin="round"/>
<polygon points="812.5,313 816,311.5 820,313.5 822,318 820.5,324 817,325.5 814,322 811,318.5 808.5,319.5 810,315" fill="#f5d568" stroke="#f5d568" stroke-width="0.5" stroke-linejoin="round"/>
<polygon points="795.5,312 797,310.5 802.5,303.5 804,304.5 799,311" fill="#f5d568" stroke="#f5d568" stroke-width="0.5" stroke-linejoin="round"/>
<polygon points="837.5,349 842,349.5 846,352 850,353.7 855,353 860,352.5 863,354 863,372.5 860,372.5 856.5,369 853.7,365 850,362.5 846,360 842.5,357 838.7,353.7" fill="#f2be12" stroke="#f2be12" stroke-width="0.5" stroke-linejoin="round"/>
<polygon points="863,354 868,356.5 875,360 880,363.5 885,367.5 890,372.5 895,377.5 900,382.5 896,382.5 890,381 885,380 878,377.5 872.5,375 867,373.5 863,372.5" fill="#f5d568" stroke="#f5d568" stroke-width="0.5" stroke-linejoin="round"/>
<polygon points="893,364 898,363 903,365.5 900,367.5 895,366.5" fill="#f5d568" stroke="#f5d568" stroke-width="0.5" stroke-linejoin="round"/>
<polygon points="774.7,430 779,425.5 783.5,421 788,419 793.5,417.5 798.5,415.5 803.5,413.7 806,410.5 808.5,407.5 812,405 816,402.5 820,401.5 823.5,401 827,398 831,395 834,391.5 837.5,388.7 841,389 843.5,390 847,393.5 851,397.5 854,401.5 857,405 861,406.5 864.7,407.5 866,402.5 867,397.5 868,391.5 868.7,386 871,390 873,394 874.7,397.5 876.5,402.5 878.5,407.5 881,411.5 883.5,415 886,419 888.5,422.5 890.5,426.5 892,430 893,435 893.5,440 892.5,445 891,450 888.5,455 886,460 882.5,465 878.5,470 875,475 871,480 866,482 861,483.7 856,484.5 851,485 847,482.5 843.5,480 841,476 838.5,472.5 837,468.5 836,465 834,466.5 832,467.5 830,464 828.5,461 825,459 821,457.5 815,458 808.5,458.7 802,460.5 796,462.5 790,465 783.5,467.5 778.5,469 773.5,470 771,467.5 769.7,465 770.5,460 771,455 772.5,447.5 773.5,440 774,435" fill="#ec7814" stroke="#ec7814" stroke-width="0.5" stroke-linejoin="round"/>
<polygon points="843.5,491 848.5,490.5 853.5,490 852.5,494 851,497.5 848.5,499.5 846,500 844.5,495.5" fill="#ec7814" stroke="#ec7814" stroke-width="0.5" stroke-linejoin="round"/>
<polygon points="939.7,471 941,474 942,476 945,478.5 948.5,481 945,483.5 941,486 938.5,487.5 936,487.5 935,485 934.7,482.5 936.5,480.5 938.5,478.7 939,475" fill="#ec7814" stroke="#ec7814" stroke-width="0.5" stroke-linejoin="round"/>
<polygon points="933.5,488.7 930,493 926,497.5 921,501.5 916,505 911,507.5 906,510 901.5,512 897,512.5 896,510 901,507 906,503.7 912.5,500 918.5,496 923.5,492.5 928.5,488.7" fill="#ec7814" stroke="#ec7814" stroke-width="0.5" stroke-linejoin="round"/>
<polyline points="405.8,260 407.5,291.7 380,291.7" fill="none" stroke="#93c571" stroke-width="0.7" stroke-linejoin="round"/>
<polyline points="407.5,291.7 418.3,295 436.7,296.7 439,280 443,272" fill="none" stroke="#93c571" stroke-width="0.7" stroke-linejoin="round"/>
<polyline points="471.7,270 470,300 453.3,300 436.7,296.7" fill="none" stroke="#93c571" stroke-width="0.7" stroke-linejoin="round"/>
<polyline points="496.7,276.7 495,305 486.7,310 470,310 470,300" fill="none" stroke="#93c571" stroke-width="0.7" stroke-linejoin="round"/>
<polyline points="470,310 465,318.3 453.3,331.7" fill="none" stroke="#93c571" stroke-width="0.7" stroke-linejoin="round"/>
<polyline points="465,318.3 476.7,330 496.7,326.7 513.3,330 517.5,335 517.5,357.5" fill="none" stroke="#93c571" stroke-width="0.7" stroke-linejoin="round"/>
<polyline points="495,305 513.3,310 530,306.7 536,296 538,283" fill="none" stroke="#93c571" stroke-width="0.7" stroke-linejoin="round"/>
<polyline points="513.3,330 522,334 530,333 540,332.5 560,335 572.5,325" fill="none" stroke="#93c571" stroke-width="0.7" stroke-linejoin="round"/>
<polyline points="530,306.7 534,318 530,333" fill="none" stroke="#93c571" stroke-width="0.7" stroke-linejoin="round"/>
<polyline points="466.5,375 482.5,373.7 487.5,385 515,385 520,395 535,392.5" fill="none" stroke="#93c571" stroke-width="0.7" stroke-linejoin="round"/>
<polyline points="487.5,385 487.5,407.5" fill="none" stroke="#93c571" stroke-width="0.7" stroke-linejoin="round"/>
<polyline points="535,355 548.5,360" fill="none" stroke="#93c571" stroke-width="0.7" stroke-linejoin="round"/>
<polyline points="535,387.5 547.5,385.5" fill="none" stroke="#93c571" stroke-width="0.7" stroke-linejoin="round"/>
<polyline points="472.5,337.5 470,362.5 462.5,365" fill="none" stroke="#93c571" stroke-width="0.7" stroke-linejoin="round"/>
<polyline points="540,332.5 535,345 535,355" fill="none" stroke="#93c571" stroke-width="0.7" stroke-linejoin="round"/>
<polyline points="418.3,295 416,309" fill="none" stroke="#93c571" stroke-width="0.7" stroke-linejoin="round"/>
<polyline points="380,300 390,303 398.5,311" fill="none" stroke="#93c571" stroke-width="0.7" stroke-linejoin="round"/>
<polyline points="453.3,265 452,240 455,232" fill="none" stroke="#f7d24f" stroke-width="0.7" stroke-linejoin="round"/>
<polyline points="501.7,266.7 501,236" fill="none" stroke="#f7d24f" stroke-width="0.7" stroke-linejoin="round"/>
<polyline points="463.3,263.3 466,250 462,235" fill="none" stroke="#f7d24f" stroke-width="0.7" stroke-linejoin="round"/>
<polyline points="482.5,408.7 484,425 487,442" fill="none" stroke="#f9e3a0" stroke-width="0.7" stroke-linejoin="round"/>
<polyline points="111,107 80,135.5" fill="none" stroke="#f4a05c" stroke-width="0.6" stroke-linejoin="round"/>
<polyline points="521,441 527,445" fill="none" stroke="#555" stroke-width="0.4" stroke-linejoin="round"/>
<polyline points="512,450 521,456" fill="none" stroke="#555" stroke-width="0.4" stroke-linejoin="round"/>
</g>
<g fill="#1a1208">
<g class="lab">
<text x="343" y="93" font-size="14" text-anchor="middle" dominant-baseline="central">33.6</text>
<text x="138.5" y="148.7" font-size="14" text-anchor="middle" dominant-baseline="central">41.7</text>
<text x="126" y="207" font-size="15" text-anchor="middle" dominant-baseline="central">37.6</text>
<text x="106" y="263.7" font-size="13" text-anchor="middle" dominant-baseline="central" transform="rotate(52 106 263.7)">27.3</text>
<text x="265" y="384.5" font-size="15.5" text-anchor="middle" dominant-baseline="central">30.7</text>
<text x="218.7" y="319.5" font-size="8" text-anchor="middle" dominant-baseline="central">26.9</text>
<text x="192.5" y="333.7" font-size="8" text-anchor="middle" dominant-baseline="central" transform="rotate(-15 192.5 333.7)">28.9</text>
<text x="177.5" y="350.7" font-size="7" text-anchor="middle" dominant-baseline="central" transform="rotate(10 177.5 350.7)">26.7</text>
<text x="195" y="392.5" font-size="11" text-anchor="middle" dominant-baseline="central" transform="rotate(-15 195 392.5)">27</text>
<text x="223.7" y="407.5" font-size="9" text-anchor="middle" dominant-baseline="central">23.4</text>
<text x="235.5" y="325.5" font-size="6" text-anchor="middle" dominant-baseline="central">23</text>
<text x="243.7" y="430" font-size="8" text-anchor="middle" dominant-baseline="central" transform="rotate(40 243.7 430)">26.8</text>
<text x="235" y="472.5" font-size="11" text-anchor="middle" dominant-baseline="central">31.2</text>
<text x="208" y="473.5" font-size="8" text-anchor="middle" dominant-baseline="central" transform="rotate(-90 208 473.5)">33.3</text>
<text x="258" y="463.5" font-size="8" text-anchor="middle" dominant-baseline="central" transform="rotate(50 258 463.5)">35.2</text>
<text x="141.4" y="293.3" font-size="5.5" text-anchor="middle" dominant-baseline="central">22</text>
<text x="152.5" y="292.7" font-size="5.5" text-anchor="middle" dominant-baseline="central" transform="rotate(-15 152.5 292.7)">24</text>
<text x="158" y="300" font-size="5.5" text-anchor="middle" dominant-baseline="central" transform="rotate(-20 158 300)">24.5</text>
<text x="238.5" y="333" font-size="4.5" text-anchor="middle" dominant-baseline="central">25.3</text>
<text x="246" y="331" font-size="4.5" text-anchor="middle" dominant-baseline="central">28.6</text>
<text x="668" y="127" font-size="19.5" text-anchor="middle" dominant-baseline="central">38.9</text>
<text x="717.5" y="182.5" font-size="14" text-anchor="middle" dominant-baseline="central" transform="rotate(8 717.5 182.5)">27.1</text>
<text x="723" y="221" font-size="17.5" text-anchor="middle" dominant-baseline="central">36.7</text>
<text x="615.5" y="174.5" font-size="13" text-anchor="middle" dominant-baseline="central" transform="rotate(8 615.5 174.5)">29.7</text>
<text x="610" y="198.3" font-size="8.5" text-anchor="middle" dominant-baseline="central" transform="rotate(30 610 198.3)">27.1</text>
<text x="601.7" y="207.5" font-size="8.5" text-anchor="middle" dominant-baseline="central" transform="rotate(30 601.7 207.5)">26.6</text>
<text x="643.3" y="198.3" font-size="8" text-anchor="middle" dominant-baseline="central" transform="rotate(-25 643.3 198.3)">25.7</text>
<text x="634" y="210" font-size="6.5" text-anchor="middle" dominant-baseline="central" transform="rotate(15 634 210)">22.5</text>
<text x="620.8" y="227.5" font-size="9" text-anchor="middle" dominant-baseline="central" transform="rotate(-20 620.8 227.5)">18.1</text>
<text x="635" y="240.8" font-size="10" text-anchor="middle" dominant-baseline="central" transform="rotate(-55 635 240.8)">22.6</text>
<text x="590" y="231.7" font-size="9" text-anchor="middle" dominant-baseline="central">28.3</text>
<text x="555" y="229.7" font-size="7.5" text-anchor="middle" dominant-baseline="central">21.5</text>
<text x="540.8" y="221.7" font-size="6" text-anchor="middle" dominant-baseline="central" transform="rotate(-20 540.8 221.7)">23.3</text>
<text x="532.5" y="207.5" font-size="7.5" text-anchor="middle" dominant-baseline="central">29.6</text>
<text x="560" y="261.2" font-size="9" text-anchor="middle" dominant-baseline="central">26.4</text>
<text x="572.5" y="293" font-size="6.5" text-anchor="middle" dominant-baseline="central">18.6</text>
<text x="595" y="278.7" font-size="7.5" text-anchor="middle" dominant-baseline="central" transform="rotate(-50 595 278.7)">24.9</text>
<text x="665" y="268.7" font-size="15" text-anchor="middle" dominant-baseline="central">27</text>
<text x="682" y="246" font-size="7" text-anchor="middle" dominant-baseline="central" transform="rotate(15 682 246)">22.9</text>
<text x="702.5" y="261" font-size="8.5" text-anchor="middle" dominant-baseline="central">24.3</text>
<text x="723.7" y="272.5" font-size="10" text-anchor="middle" dominant-baseline="central" transform="rotate(-50 723.7 272.5)">24.3</text>
<text x="741" y="276" font-size="8" text-anchor="middle" dominant-baseline="central" transform="rotate(-20 741 276)">22</text>
<text x="740" y="290" font-size="8" text-anchor="middle" dominant-baseline="central" transform="rotate(-30 740 290)" fill="#5a1408">36.2</text>
<text x="754" y="299" font-size="6" text-anchor="middle" dominant-baseline="central" transform="rotate(-30 754 299)">24.1</text>
<text x="760" y="306" font-size="7" text-anchor="middle" dominant-baseline="central" transform="rotate(-50 760 306)">28.3</text>
<text x="798" y="262.5" font-size="8" text-anchor="middle" dominant-baseline="central">39.2</text>
<text x="795" y="205" font-size="7" text-anchor="middle" dominant-baseline="central" transform="rotate(-30 795 205)">33.4</text>
<text x="802.5" y="216.5" font-size="7.5" text-anchor="middle" dominant-baseline="central" fill="#3a0a18">40.2</text>
<text x="833" y="217.5" font-size="12" text-anchor="middle" dominant-baseline="central" transform="rotate(-8 833 217.5)">46.1</text>
<text x="810" y="308.7" font-size="13" text-anchor="middle" dominant-baseline="central" transform="rotate(45 810 308.7)">23.5</text>
<text x="763" y="333.7" font-size="14" text-anchor="middle" dominant-baseline="central">27.7</text>
<text x="796" y="358" font-size="22" text-anchor="middle" dominant-baseline="central">29.2</text>
<text x="887" y="369" font-size="17" text-anchor="middle" dominant-baseline="central">22.4</text>
<text x="926" y="380" font-size="10" text-anchor="middle" dominant-baseline="central">31.1</text>
<text x="944" y="403.7" font-size="10" text-anchor="middle" dominant-baseline="central">31.1</text>
<text x="935" y="422.5" font-size="9" text-anchor="middle" dominant-baseline="central">31.1</text>
<text x="819" y="380.5" font-size="5.5" text-anchor="middle" dominant-baseline="central">18.5</text>
<text x="833.5" y="438" font-size="17" text-anchor="middle" dominant-baseline="central" fill="#4a0d10">38.3</text>
<text x="923.5" y="496.5" font-size="15" text-anchor="middle" dominant-baseline="central">37.6</text>
<text x="782" y="326" font-size="4.5" text-anchor="middle" dominant-baseline="central">29.5</text>
<text x="749" y="339" font-size="4.5" text-anchor="middle" dominant-baseline="central">23.8</text>
<text x="543" y="222.5" font-size="4.5" text-anchor="middle" dominant-baseline="central">30.1</text>
<text x="542" y="228.5" font-size="4.5" text-anchor="middle" dominant-baseline="central">22.4</text>
<text x="579" y="249.5" font-size="4.5" text-anchor="middle" dominant-baseline="central">31.6</text>
<text x="583.5" y="255.5" font-size="4.5" text-anchor="middle" dominant-baseline="central">32.4</text>
<text x="590.5" y="263" font-size="4.5" text-anchor="middle" dominant-baseline="central" fill="#7a1a10">33.5</text>
<text x="570" y="204" font-size="4.5" text-anchor="middle" dominant-baseline="central" transform="rotate(20 570 204)">35.3</text>
<text x="553" y="198.5" font-size="4.5" text-anchor="middle" dominant-baseline="central" transform="rotate(20 553 198.5)">38.3</text>
<text x="694" y="252" font-size="4.5" text-anchor="middle" dominant-baseline="central">26.2</text>
<text x="678" y="323" font-size="4.5" text-anchor="middle" dominant-baseline="central">21</text>
<text x="407.5" y="232.5" font-size="9" text-anchor="middle" dominant-baseline="central" transform="rotate(-55 407.5 232.5)">28.1</text>
<text x="432.5" y="248.7" font-size="10" text-anchor="middle" dominant-baseline="central">27.3</text>
<text x="478.7" y="250.7" font-size="9.5" text-anchor="middle" dominant-baseline="central">27.5</text>
<text x="515" y="253.2" font-size="10" text-anchor="middle" dominant-baseline="central">25.1</text>
<text x="382.5" y="261.2" font-size="6.5" text-anchor="middle" dominant-baseline="central" transform="rotate(-70 382.5 261.2)">20.8</text>
<text x="391.2" y="276.2" font-size="10" text-anchor="middle" dominant-baseline="central">19.9</text>
<text x="420" y="285" font-size="11" text-anchor="middle" dominant-baseline="central">16</text>
<text x="453.7" y="286.2" font-size="11" text-anchor="middle" dominant-baseline="central">15.1</text>
<text x="483.7" y="290" font-size="13" text-anchor="middle" dominant-baseline="central" transform="rotate(-20 483.7 290)">17.2</text>
<text x="516.2" y="291.2" font-size="13" text-anchor="middle" dominant-baseline="central">19.1</text>
<text x="450" y="312.5" font-size="11" text-anchor="middle" dominant-baseline="central">18.2</text>
<text x="419.5" y="301.2" font-size="7" text-anchor="middle" dominant-baseline="central">17</text>
<text x="406.2" y="320" font-size="7" text-anchor="middle" dominant-baseline="central">20.3</text>
<text x="420" y="317.5" font-size="6.5" text-anchor="middle" dominant-baseline="central" transform="rotate(-90 420 317.5)">20.8</text>
<text x="378.7" y="296.2" font-size="6.5" text-anchor="middle" dominant-baseline="central" transform="rotate(30 378.7 296.2)">18.4</text>
<text x="387.5" y="307.5" font-size="6.5" text-anchor="middle" dominant-baseline="central">18.7</text>
<text x="487.5" y="322.5" font-size="10.5" text-anchor="middle" dominant-baseline="central">19.4</text>
<text x="520" y="321.2" font-size="10" text-anchor="middle" dominant-baseline="central" transform="rotate(25 520 321.2)">16.8</text>
<text x="548.7" y="318.7" font-size="11" text-anchor="middle" dominant-baseline="central">17.6</text>
<text x="566" y="335" font-size="11" text-anchor="middle" dominant-baseline="central" transform="rotate(-55 566 335)">17.7</text>
<text x="542.5" y="345" font-size="10" text-anchor="middle" dominant-baseline="central">19.1</text>
<text x="461" y="333" font-size="7.5" text-anchor="middle" dominant-baseline="central" transform="rotate(35 461 333)">18.3</text>
<text x="546" y="291" font-size="6.5" text-anchor="middle" dominant-baseline="central" transform="rotate(45 546 291)">19.7</text>
<text x="496" y="357.5" font-size="13" text-anchor="middle" dominant-baseline="central" transform="rotate(25 496 357.5)">17.9</text>
<text x="533.7" y="371" font-size="9.5" text-anchor="middle" dominant-baseline="central">17.4</text>
<text x="480" y="392.5" font-size="10.5" text-anchor="middle" dominant-baseline="central">17.9</text>
<text x="505" y="400" font-size="10" text-anchor="middle" dominant-baseline="central">16.7</text>
<text x="516" y="414.5" font-size="8" text-anchor="middle" dominant-baseline="central" transform="rotate(10 516 414.5)">20.2</text>
<text x="477.5" y="427.5" font-size="10" text-anchor="middle" dominant-baseline="central" transform="rotate(-65 477.5 427.5)">22.8</text>
<text x="496" y="427.5" font-size="8.5" text-anchor="middle" dominant-baseline="central" transform="rotate(-30 496 427.5)">22.9</text>
<text x="535" y="413.7" font-size="9" text-anchor="middle" dominant-baseline="central" transform="rotate(-60 535 413.7)">16.9</text>
<text x="496" y="455" font-size="13" text-anchor="middle" dominant-baseline="central">25.7</text>
<text x="570" y="418.7" font-size="11" text-anchor="middle" dominant-baseline="central" transform="rotate(-65 570 418.7)">19.2</text>
<text x="530" y="446.2" font-size="5" text-anchor="middle" dominant-baseline="central">21</text>
<text x="525" y="457" font-size="5" text-anchor="middle" dominant-baseline="central">23.6</text>
<text x="461" y="348.7" font-size="6" text-anchor="middle" dominant-baseline="central">18.6</text>
<text x="473.7" y="350" font-size="7" text-anchor="middle" dominant-baseline="central" transform="rotate(-70 473.7 350)">19.8</text>
<text x="453.5" y="341" font-size="4.5" text-anchor="middle" dominant-baseline="central">16.4</text>
<text x="526" y="341" font-size="5" text-anchor="middle" dominant-baseline="central" transform="rotate(-40 526 341)">15.5</text>
<text x="635" y="332" font-size="5.5" text-anchor="middle" dominant-baseline="central">27.1</text>
<text x="597.5" y="360" font-size="5.5" text-anchor="middle" dominant-baseline="central">33.9</text>
<text x="348.7" y="290" font-size="6" text-anchor="middle" dominant-baseline="central">24</text>
<text x="368" y="300" font-size="4.5" text-anchor="middle" dominant-baseline="central">18.2</text>
<text x="384" y="313" font-size="5.5" text-anchor="middle" dominant-baseline="central" transform="rotate(35 384 313)">19</text>
<text x="393" y="321" font-size="5.5" text-anchor="middle" dominant-baseline="central" transform="rotate(35 393 321)">18.8</text>
<text x="431" y="311" font-size="4.5" text-anchor="middle" dominant-baseline="central" transform="rotate(-70 431 311)">17.8</text>
<text x="436" y="316" font-size="4.5" text-anchor="middle" dominant-baseline="central" transform="rotate(-70 436 316)">18.7</text>
<text x="519.5" y="359" font-size="4.5" text-anchor="middle" dominant-baseline="central">17</text>
<text x="527" y="400" font-size="5" text-anchor="middle" dominant-baseline="central" transform="rotate(-70 527 400)">17.5</text>
<text x="556.5" y="305" font-size="4.5" text-anchor="middle" dominant-baseline="central">22.7</text>
<text x="415.4" y="204" font-size="7" text-anchor="middle" dominant-baseline="central" fill="#4a0d10">41.6</text>
<text x="434.3" y="180" font-size="6.5" text-anchor="middle" dominant-baseline="central" transform="rotate(-25 434.3 180)" fill="#5a1a08">41.2</text>
<text x="454" y="165.3" font-size="5" text-anchor="middle" dominant-baseline="central" fill="#6a0a0a">46.1</text>
<text x="478.8" y="161.6" font-size="6" text-anchor="middle" dominant-baseline="central" fill="#5a1a08">39.7</text>
<text x="502.8" y="157.3" font-size="6" text-anchor="middle" dominant-baseline="central" fill="#5a1a08">39.6</text>
<text x="513.7" y="171" font-size="7" text-anchor="middle" dominant-baseline="central" fill="#4a0d10">40.6</text>
<text x="497" y="182.8" font-size="6.5" text-anchor="middle" dominant-baseline="central" fill="#5a1a08">39.8</text>
<text x="452.5" y="132" font-size="6.5" text-anchor="middle" dominant-baseline="central" transform="rotate(-30 452.5 132)" fill="#5a1a08">39.1</text>
<text x="467.8" y="134.3" font-size="6.5" text-anchor="middle" dominant-baseline="central" transform="rotate(-60 467.8 134.3)" fill="#4a0d10">41.2</text>
<text x="494" y="126.3" font-size="6.5" text-anchor="middle" dominant-baseline="central" fill="#4a0d10">42.2</text>
<text x="467.8" y="176.2" font-size="5" text-anchor="middle" dominant-baseline="central" fill="#4a0d10">43.3</text>
<text x="461.3" y="193.7" font-size="5.5" text-anchor="middle" dominant-baseline="central" transform="rotate(50 461.3 193.7)" fill="#4a0d10">44.5</text>
<text x="453.3" y="222.8" font-size="6.5" text-anchor="middle" dominant-baseline="central" transform="rotate(-90 453.3 222.8)" fill="#8a2a10">31.6</text>
<text x="497" y="211" font-size="5" text-anchor="middle" dominant-baseline="central" fill="#4a0d10">44.5</text>
<text x="420.5" y="159.8" font-size="5" text-anchor="middle" dominant-baseline="central" fill="#4a0d10">40.5</text>
<text x="407" y="158" font-size="4.5" text-anchor="middle" dominant-baseline="central" fill="#4a0d10">36.8</text>
<text x="496" y="144" font-size="5" text-anchor="middle" dominant-baseline="central" transform="rotate(-60 496 144)" fill="#4a0d10">43.2</text>
<text x="472.5" y="172" font-size="4.5" text-anchor="middle" dominant-baseline="central" fill="#4a0d10">42.4</text>
<text x="477" y="186" font-size="4.5" text-anchor="middle" dominant-baseline="central" transform="rotate(40 477 186)" fill="#4a0d10">43.2</text>
<text x="483" y="195" font-size="4.5" text-anchor="middle" dominant-baseline="central" transform="rotate(40 483 195)" fill="#4a0d10">42.7</text>
<text x="387" y="119.5" font-size="4.5" text-anchor="middle" dominant-baseline="central" fill="#5a1a08">36.5</text>
<text x="404" y="204" font-size="4.5" text-anchor="middle" dominant-baseline="central" transform="rotate(-80 404 204)" fill="#4a0d10">42.1</text>
<text x="488" y="181" font-size="4.5" text-anchor="middle" dominant-baseline="central" fill="#4a0d10">41.7</text>
</g>
<g fill="#111">
<text x="17" y="47.6" font-size="40.5" textLength="116.5" lengthAdjust="spacingAndGlyphs" fill="#111" stroke="#111" stroke-width="1.5" stroke-linejoin="round">World</text>
<text x="145" y="47.6" font-size="40.5" textLength="144" lengthAdjust="spacingAndGlyphs" fill="#111" stroke="#111" stroke-width="1.5" stroke-linejoin="round">Median</text>
<text x="300" y="47.6" font-size="40.5" textLength="96" lengthAdjust="spacingAndGlyphs" fill="#111" stroke="#111" stroke-width="1.5" stroke-linejoin="round">Ages</text>
</g>
<text x="299.4" y="478.4" font-size="18.5" textLength="132" lengthAdjust="spacingAndGlyphs" fill="#1a1a1a" stroke="#1a1a1a" stroke-width="0.6">MEDIAN AGE:</text>
<circle cx="325.4" cy="502.6" r="12.9" fill="#73ad4e"/>
<path d="M429.4,489.7 a12.9,12.9 0 0 0 0,25.8 z" fill="#f5d568"/><path d="M429.4,489.7 a12.9,12.9 0 0 1 0,25.8 z" fill="#f2be12"/>
<path d="M563.2,489.7 a12.9,12.9 0 0 0 0,25.8 z" fill="#ed903e"/><path d="M563.2,489.7 a12.9,12.9 0 0 1 0,25.8 z" fill="#ec7814"/>
<path d="M680.2,489.7 a12.9,12.9 0 0 0 0,25.8 z" fill="#ce5642"/><path d="M680.2,489.7 a12.9,12.9 0 0 1 0,25.8 z" fill="#c02e20"/>
<text x="345.8" y="510.3" font-size="24.5" textLength="60.5" lengthAdjust="spacingAndGlyphs" fill="#111" stroke="#fff" stroke-width="0.5">teens</text>
<text x="447.3" y="510.3" font-size="24.5" textLength="94.5" lengthAdjust="spacingAndGlyphs" fill="#111" stroke="#fff" stroke-width="0.5">twenties</text>
<text x="584.2" y="510.3" font-size="24.5" textLength="74.5" lengthAdjust="spacingAndGlyphs" fill="#111" stroke="#fff" stroke-width="0.5">thirties</text>
<text x="702.3" y="510.3" font-size="24.5" textLength="67.5" lengthAdjust="spacingAndGlyphs" fill="#111" stroke="#fff" stroke-width="0.5">forties</text>
<text x="17" y="571.2" font-size="18" textLength="105.5" lengthAdjust="spacingAndGlyphs" font-weight="bold" fill="#111" stroke="#111" stroke-width="0.5">YOUNGEST:</text>
<text x="131.8" y="571.2" font-size="18" textLength="124.2" lengthAdjust="spacingAndGlyphs" fill="#111" >1. Niger (15.1)</text>
<text x="270.6" y="571.2" font-size="18" textLength="142" lengthAdjust="spacingAndGlyphs" fill="#111" >2. Uganda (15.5)</text>
<text x="434" y="571.2" font-size="18" textLength="96.8" lengthAdjust="spacingAndGlyphs" fill="#111" >3. Mali (16)</text>
<text x="543.2" y="571.2" font-size="18" textLength="138" lengthAdjust="spacingAndGlyphs" fill="#111" >4. Malawi (16.3)</text>
<text x="695.6" y="571.2" font-size="18" textLength="139" lengthAdjust="spacingAndGlyphs" fill="#111" >5. Zambia (16.7)</text>
<text x="48.8" y="597.7" font-size="18" textLength="73.5" lengthAdjust="spacingAndGlyphs" font-weight="bold" fill="#111" stroke="#111" stroke-width="0.5">OLDEST:</text>
<text x="131.6" y="597.7" font-size="18" textLength="225.4" lengthAdjust="spacingAndGlyphs" fill="#111" >1. Germany &amp; Japan (46.1)</text>
<text x="371" y="597.7" font-size="18" textLength="105.4" lengthAdjust="spacingAndGlyphs" fill="#111" >2.Italy (44.5)</text>
<text x="490" y="597.7" font-size="18" textLength="134.2" lengthAdjust="spacingAndGlyphs" fill="#111" >3. Austria (44.3)</text>
<text x="638" y="597.7" font-size="18" textLength="186.4" lengthAdjust="spacingAndGlyphs" fill="#111" >4. Virgin Islands (44.2)</text>
<path d="M928.5,15.2 Q944,10.5 959.3,15.2" fill="none" stroke="#b0b0b0" stroke-width="1.3"/>
<text x="928" y="27.5" font-size="23" textLength="31" lengthAdjust="spacingAndGlyphs" style="font-family:'Liberation Serif',serif" fill="#a4a4a4">gp</text>
</g>
</svg>
</body></html>
